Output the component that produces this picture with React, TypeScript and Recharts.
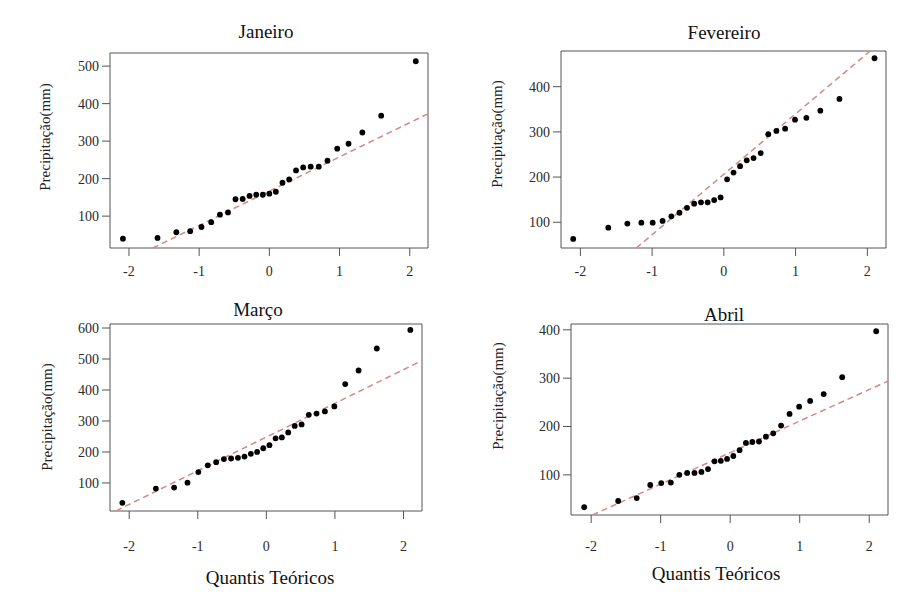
import React from 'react';
import { ScatterChart, Scatter, XAxis, YAxis, ReferenceArea, ReferenceLine } from 'recharts';

// theoretical normal quantiles (27 points for Janeiro, 28 for the other months)
const quantis27 = [-2.086, -1.593, -1.325, -1.128, -0.967, -0.828, -0.704, -0.589, -0.482, -0.38, -0.282, -0.187, -0.093, 0, 0.093, 0.187, 0.282, 0.38, 0.482, 0.589, 0.704, 0.828, 0.967, 1.128, 1.325, 1.593, 2.086];
const quantis28 = [-2.1, -1.611, -1.345, -1.15, -0.992, -0.854, -0.732, -0.619, -0.514, -0.414, -0.319, -0.226, -0.135, -0.045, 0.045, 0.135, 0.226, 0.319, 0.414, 0.514, 0.619, 0.732, 0.854, 0.992, 1.15, 1.345, 1.611, 2.1];

// ordered precipitation (mm)
const janeiro = [40, 42, 57, 60, 71, 84, 104, 110, 145, 146, 154, 157, 157, 160, 165, 189, 198, 222, 230, 232, 232, 248, 280, 293, 323, 368, 513];
const fevereiro = [63, 88, 97, 99, 99, 103, 113, 121, 132, 141, 144, 144, 149, 155, 195, 210, 224, 237, 242, 253, 295, 302, 307, 327, 331, 347, 373, 463];
const marco = [36, 82, 85, 101, 135, 157, 167, 177, 179, 181, 185, 194, 200, 212, 222, 244, 247, 263, 284, 289, 320, 324, 331, 347, 419, 463, 534, 594];
const abril = [33, 46, 52, 79, 83, 84, 100, 104, 104, 106, 112, 128, 129, 133, 139, 151, 166, 168, 169, 179, 186, 202, 226, 241, 253, 267, 302, 397];

// qq-line end points
const lineJan = [{ x: -1.66, y: 15 }, { x: 2.26, y: 373 }];
const lineFev = [{ x: -1.22, y: 43 }, { x: 2.04, y: 479 }];
const lineMar = [{ x: -2.19, y: 10 }, { x: 2.27, y: 495 }];
const lineAbr = [{ x: -1.98, y: 17 }, { x: 2.27, y: 294 }];

const xTicks = [-2, -1, 0, 1, 2];
const yTicksJan = [100, 200, 300, 400, 500];
const yTicksFev = [100, 200, 300, 400];
const yTicksMar = [100, 200, 300, 400, 500, 600];
const yTicksAbr = [100, 200, 300, 400];

const FONT = '"Liberation Serif", "Times New Roman", serif';
const PW = 457;
const PH = 297;

const Dot = (p: any) => <circle cx={p.cx} cy={p.cy} r={2.9} fill="#000" />;

const Panel = ({ q, v, line, xDomain, yDomain, yTicks, box, ox, oy, xh, tickGap }: any) => {
  const data = q.map((x: number, i: number) => ({ x, y: v[i] }));
  return (
    <div style={{ position: 'absolute', left: ox, top: oy }}>
      <ScatterChart
        width={PW}
        height={PH}
        margin={{ top: box.T - oy, right: ox + PW - box.R, bottom: oy + PH - box.B - xh, left: 0 }}
      >
        <XAxis
          type="number"
          dataKey="x"
          domain={xDomain}
          ticks={xTicks}
          interval={0}
          allowDataOverflow
          height={xh}
          axisLine={false}
          tickSize={8}
          tickMargin={tickGap}
          tickLine={{ stroke: '#555' }}
          tick={{ fontSize: 14, fill: '#2a2a2a', fontFamily: FONT }}
        />
        <YAxis
          type="number"
          dataKey="y"
          domain={yDomain}
          ticks={yTicks}
          interval={0}
          allowDataOverflow
          width={box.L - ox}
          axisLine={false}
          tickSize={8}
          tickMargin={3}
          tickLine={{ stroke: '#555' }}
          tick={{ fontSize: 14, fill: '#2a2a2a', fontFamily: FONT }}
        />
        <ReferenceArea
          x1={xDomain[0]}
          x2={xDomain[1]}
          y1={yDomain[0]}
          y2={yDomain[1]}
          fill="none"
          fillOpacity={0}
          stroke="#555"
          strokeWidth={1}
          ifOverflow="visible"
        />
        <ReferenceLine
          segment={line}
          stroke="#d48888"
          strokeWidth={1.5}
          strokeDasharray="6 4"
          ifOverflow="hidden"
        />
        <Scatter data={data} shape={Dot} isAnimationActive={false} />
      </ScatterChart>
    </div>
  );
};

const Title = ({ text, cx, base, size = 19 }: any) => (
  <div
    style={{
      position: 'absolute',
      left: cx - 150,
      width: 300,
      top: base - 0.8375 * size,
      textAlign: 'center',
      fontFamily: FONT,
      fontSize: size,
      lineHeight: `${size}px`,
      color: '#111',
      whiteSpace: 'nowrap',
    }}
  >
    {text}
  </div>
);

const YLabel = ({ cx, cy }: any) => (
  <div
    style={{
      position: 'absolute',
      left: cx - 100,
      top: cy - 8,
      width: 200,
      height: 16,
      lineHeight: '16px',
      textAlign: 'center',
      fontFamily: FONT,
      fontSize: 15,
      color: '#222',
      transform: 'rotate(-90deg)',
      whiteSpace: 'nowrap',
    }}
  >
    Precipitação(mm)
  </div>
);

export default function App() {
  return (
    <div style={{ position: 'absolute', left: 0, top: 0, width: 914, height: 594, background: '#fff', overflow: 'hidden' }}>
      <Panel q={quantis27} v={janeiro} line={lineJan} xDomain={[-2.27, 2.26]} yDomain={[15, 535]} yTicks={yTicksJan}
        box={{ L: 110, T: 53, R: 428, B: 248 }} ox={0} oy={0} xh={40} tickGap={10} />
      <Panel q={quantis28} v={fevereiro} line={lineFev} xDomain={[-2.27, 2.26]} yDomain={[43, 479]} yTicks={yTicksFev}
        box={{ L: 561, T: 51, R: 886, B: 248 }} ox={457} oy={0} xh={40} tickGap={10} />
      <Panel q={quantis28} v={marco} line={lineMar} xDomain={[-2.28, 2.27]} yDomain={[9.5, 613]} yTicks={yTicksMar}
        box={{ L: 110, T: 324, R: 422, B: 511 }} ox={0} oy={297} xh={60} tickGap={22} />
      <Panel q={quantis28} v={abril} line={lineAbr} xDomain={[-2.29, 2.27]} yDomain={[17, 412]} yTicks={yTicksAbr}
        box={{ L: 571, T: 324, R: 888, B: 515 }} ox={457} oy={297} xh={60} tickGap={18} />

      <Title text="Janeiro" cx={266} base={38} />
      <Title text="Fevereiro" cx={724} base={39} />
      <Title text="Março" cx={258} base={316} />
      <Title text="Abril" cx={724} base={321} />
      <Title text="Quantis Teóricos" cx={270} base={584} />
      <Title text="Quantis Teóricos" cx={716} base={580} />

      <YLabel cx={45} cy={137} />
      <YLabel cx={497} cy={134} />
      <YLabel cx={47} cy={417} />
      <YLabel cx={498} cy={396} />
    </div>
  );
}
